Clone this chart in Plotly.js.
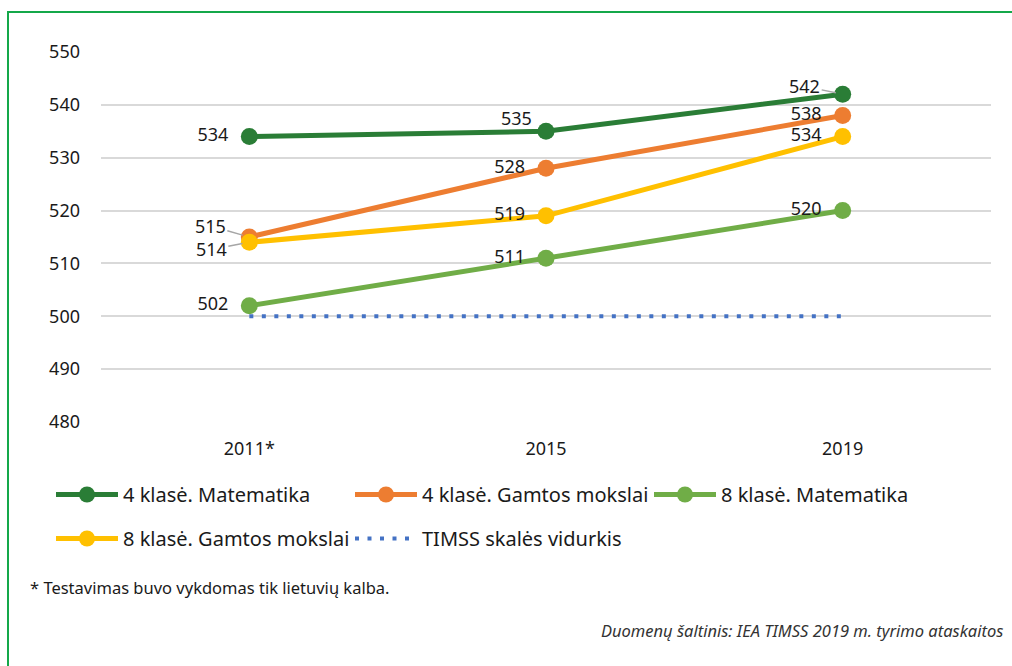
<!DOCTYPE html>
<html>
<head>
<meta charset="utf-8">
<script src="https://cdn.plot.ly/plotly-3.0.1.min.js"></script>
<style>html,body{margin:0;padding:0;background:#fff;}#chart{width:1012px;height:666px;}</style>
</head>
<body>
<div id="chart"></div>
<script>
const years = ['2011*', '2015', '2019'];
const math4 = [534, 535, 542];
const sci4 = [515, 528, 538];
const math8 = [502, 511, 520];
const sci8 = [514, 519, 534];
const timss = [500, 500, 500];
const seriesNames = ['4 klasė. Matematika', '4 klasė. Gamtos mokslai', '8 klasė. Matematika', '8 klasė. Gamtos mokslai', 'TIMSS skalės vidurkis'];
const yTicks = [480, 490, 500, 510, 520, 530, 540, 550];
const footnote = '* Testavimas buvo vykdomas tik lietuvių kalba.';
const source = 'Duomenų šaltinis: IEA TIMSS 2019 m. tyrimo ataskaitos';

const FONT = 'Noto Sans, Open Sans, sans-serif';
const TXT = '#1a1a1a';

function lineTrace(y, name, color, legend, hideIdx) {
  return {
    x: years, y: y, name: name, type: 'scatter', mode: 'lines+markers+text',
    line: {color: color, width: 5},
    marker: {color: color, size: 17},
    text: y.map((v, i) => hideIdx.includes(i) ? '' : String(v) + '  '),
    textposition: 'middle left',
    textfont: {family: FONT, size: 18, color: TXT},
    cliponaxis: false,
    legend: legend,
    hoverinfo: 'skip'
  };
}

const traces = [
  lineTrace(math4, seriesNames[0], '#2a7d36', 'legend', [1, 2]),
  lineTrace(sci4, seriesNames[1], '#ed7d31', 'legend', [0]),
  lineTrace(math8, seriesNames[2], '#70ad47', 'legend', []),
  lineTrace(sci8, seriesNames[3], '#ffc000', 'legend2', [0]),
  {
    x: years, y: timss, name: seriesNames[4], type: 'scatter', mode: 'lines',
    line: {color: '#4472c4', width: 4, dash: '4px,8.5px'},
    legend: 'legend2', hoverinfo: 'skip', cliponaxis: false
  }
];

// idx = category index of the point
function leader(idx, yv, ax, ay) {
  return {
    x: idx, y: yv, xref: 'x', yref: 'y', text: String(yv),
    ax: ax, ay: ay, showarrow: true, arrowhead: 0, arrowwidth: 1.5,
    arrowcolor: '#a6a6a6', standoff: 7,
    font: {family: FONT, size: 18, color: TXT}
  };
}
function shifted(idx, yv, dx, dy) {
  return {
    x: idx, y: yv, xref: 'x', yref: 'y', text: String(yv), showarrow: false,
    xshift: dx, yshift: dy, font: {family: FONT, size: 18, color: TXT}
  };
}

const plotL = 101, plotR = 991, plotT = 52, plotB = 422;
const pw = plotR - plotL, ph = plotB - plotT;
const px = v => (v - plotL) / pw;
const py = v => (plotB - v) / ph;

const legendCommon = {
  orientation: 'h', xanchor: 'left', yanchor: 'top',
  entrywidth: 222, entrywidthmode: 'pixels', itemwidth: 62,
  font: {family: FONT, size: 20, color: TXT}, bgcolor: 'rgba(0,0,0,0)'
};

const layout = {
  width: 1012, height: 666,
  margin: {l: plotL, r: 1012 - plotR, t: plotT, b: 666 - plotB},
  paper_bgcolor: '#fff', plot_bgcolor: '#fff',
  font: {family: FONT, size: 18, color: TXT},
  showlegend: true,
  xaxis: {
    type: 'category', categoryorder: 'array', categoryarray: years,
    range: [-0.5, 2.5], showgrid: false, zeroline: false, showline: false,
    ticks: '', ticklabelstandoff: 14, tickfont: {family: FONT, size: 18, color: TXT}
  },
  yaxis: {
    range: [480, 550], tickvals: yTicks, showgrid: true, gridcolor: '#d9d9d9', gridwidth: 2,
    zeroline: false, showline: false, ticks: '', ticklabelstandoff: 20,
    tickfont: {family: FONT, size: 18, color: TXT}
  },
  legend: Object.assign({}, legendCommon, {x: px(51), y: py(475)}),
  legend2: Object.assign({}, legendCommon, {x: px(51), y: py(519)}),
  annotations: [
    leader(0, sci4[0], -39, -11),
    leader(0, sci8[0], -38, 7),
    leader(2, math4[2], -38, -8),
    shifted(1, math4[1], -30, 13),
    {xref: 'paper', yref: 'paper', x: px(28), y: py(587), xanchor: 'left', yanchor: 'middle',
     text: footnote, showarrow: false, font: {family: FONT, size: 16.5, color: TXT}},
    {xref: 'paper', yref: 'paper', x: px(1005), y: py(630), xanchor: 'right', yanchor: 'middle',
     text: '<i>' + source + '</i>', showarrow: false, font: {family: FONT, size: 16.5, color: '#333'}}
  ],
  shapes: [
    {type: 'rect', xref: 'paper', yref: 'paper', x0: px(8), x1: px(1030), y0: py(690), y1: py(12),
     line: {color: '#14a84a', width: 2}, fillcolor: 'rgba(0,0,0,0)', layer: 'below'}
  ]
};

Plotly.newPlot('chart', traces, layout, {staticPlot: true, displayModeBar: false});
</script>
</body>
</html>
